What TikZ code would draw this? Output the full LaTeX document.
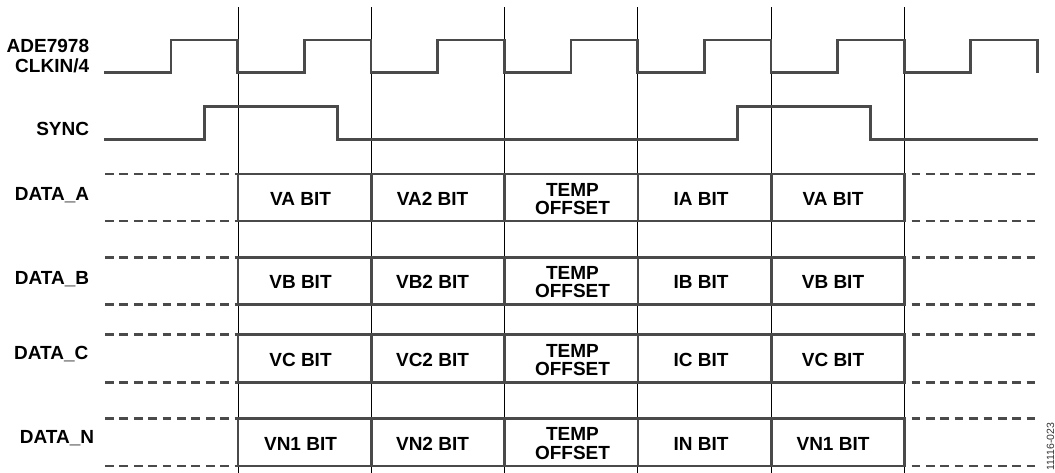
\documentclass[tikz,border=0pt]{standalone}
\usepackage{fontspec}
\setmainfont{Liberation Sans}
\usepackage{xcolor}
\definecolor{wavegray}{HTML}{4A4A4A}

\begin{document}
\begin{tikzpicture}[
    x=1pt, y=-1pt,
    wave/.style={draw=wavegray, line width=2.8pt},
    idle/.style={draw=wavegray, line width=2.8pt, dash pattern=on 8.7pt off 5.7pt},
    guide/.style={draw=black, line width=1pt},
    sig/.style={font=\bfseries\fontsize{19}{20.5}\selectfont, align=right, inner sep=0pt},
    bitcell/.style={font=\bfseries\fontsize{19}{18.3}\selectfont, align=center, inner sep=0pt}
]
\useasboundingbox (0,0) rectangle (1055,472);

\foreach \x in {238,371.3,504.6,637.9,771.2,904.5}
    \draw[guide] (\x,7) -- (\x,480);

\draw[wave] (104,72.7) foreach \k in {0,...,6} {
    -- ({171+133.3*\k},72.7) -- ({171+133.3*\k},40) -- ({237.7+133.3*\k},40) -- ({237.7+133.3*\k},72.7)};
\draw[wave] (104,139.3) -| (204.3,106.7) -| (337.6,139.3) -| (737.5,106.7) -| (870.8,139.3) -- (1038,139.3);

\node[sig, anchor=east] (clk) at (89.3,56) {ADE7978\\CLKIN/4};
\node[sig, anchor=base east] (sync) at (89.3,135) {SYNC};

\foreach \r/\top/\bot/\lx/\ly/\vone/\vtwo/\ione in {
    A/174/221/89.3/200/VA/VA2/IA,
    B/257.3/304.3/89.3/284/VB/VB2/IB,
    C/334.3/382.7/88.5/359/VC/VC2/IC,
    N/418.3/466/94.3/443.3/VN1/VN2/IN}
{
    \pgfmathsetmacro\mid{(\top+\bot)/2+1.5}
    \draw[idle] (105,\top) -- (238,\top) (105,\bot) -- (238,\bot);
    \draw[idle] (911.5,\top) -- (1038,\top) (911.5,\bot) -- (1038,\bot);
    \draw[wave] (238,\top) rectangle (904.5,\bot);
    \foreach \x in {371.3,504.6,637.9,771.2}
        \draw[wave] (\x,\top) -- (\x,\bot);
    \node[sig, anchor=base east] (data\r) at (\lx,\ly) {DATA\_\r};
    \node[bitcell] (cell\r1) at (300.5,\mid) {\vone{} BIT};
    \node[bitcell] (cell\r2) at (432.5,\mid) {\vtwo{} BIT};
    \node[bitcell] (cell\r3) at (572.5,\mid) {TEMP\\OFFSET};
    \node[bitcell] (cell\r4) at (701,\mid) {\ione{} BIT};
    \node[bitcell] (cell\r5) at (833,\mid) {\vone{} BIT};
}

\node[rotate=90, anchor=base west, inner sep=0pt, font=\fontsize{10.5}{10.5}\selectfont, text=black!80] (figid) at (1054,471) {11116-023};
\end{tikzpicture}
\end{document}
